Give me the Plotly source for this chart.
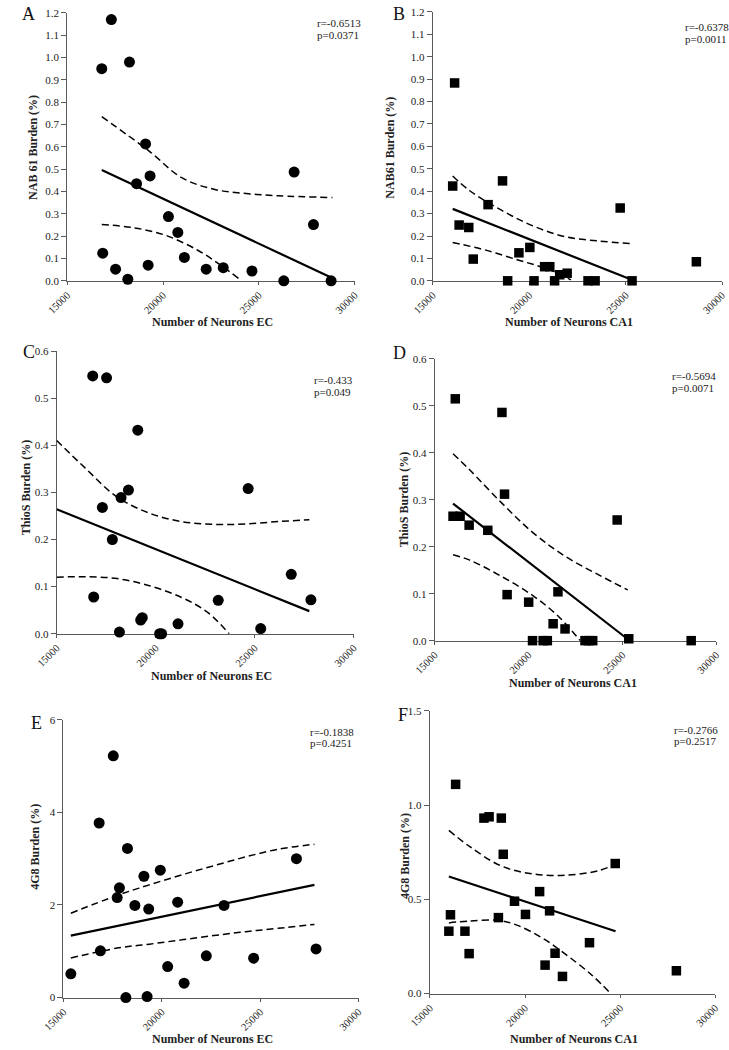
import plotly.graph_objects as go

W, H = 729, 1050
FONT = "Liberation Serif"

# ---------------- data ----------------
# Panel A: NAB61 vs EC neurons
a_x = [16800, 17300, 18245, 19086, 18615, 19320, 16850, 17520, 18160, 19220,
       20280, 20770, 21110, 22250, 23140, 24640, 26300, 26840, 27850, 28770]
a_y = [0.95, 1.17, 0.98, 0.613, 0.435, 0.47, 0.124, 0.052, 0.007, 0.07,
       0.288, 0.217, 0.105, 0.052, 0.059, 0.044, 0.0, 0.487, 0.252, 0.0]
a_fit_x = [16800, 28770]
a_fit_y = [0.496, 0.015]
a_up_x = [16800, 19288, 20970, 22651, 24333, 26014, 28839]
a_up_y = [0.735, 0.58, 0.462, 0.41, 0.391, 0.381, 0.373]
a_lo_x = [16800, 18447, 20129, 21810, 22987, 23946]
a_lo_y = [0.252, 0.238, 0.204, 0.137, 0.071, 0.010]

# Panel B: NAB61 vs CA1 neurons
b_x = [16133, 16033, 16367, 16867, 17100, 17867, 18617, 18883, 19467, 20033,
       20250, 20800, 21067, 21317, 21583, 21967, 23050, 23417, 24717, 25333, 28667]
b_y = [0.883, 0.423, 0.249, 0.238, 0.097, 0.34, 0.446, 0.0, 0.125, 0.149,
       0.0, 0.063, 0.063, 0.0, 0.027, 0.034, 0.0, 0.0, 0.325, 0.0, 0.085]
b_fit_x = [16033, 25250]
b_fit_y = [0.321, 0.007]
b_up_x = [16033, 16917, 18583, 20250, 21917, 23583, 25250]
b_up_y = [0.468, 0.402, 0.314, 0.243, 0.196, 0.178, 0.166]
b_lo_x = [16033, 17750, 19417, 20583, 21583, 22167]
b_lo_y = [0.171, 0.137, 0.093, 0.063, 0.031, 0.004]

# Panel C: ThioS vs EC neurons
c_x = [16820, 17519, 19096, 17308, 18250, 18624, 17812, 16869, 18169, 19242,
       19323, 20200, 20298, 21127, 23159, 24670, 25304, 26848, 27840]
c_y = [0.547, 0.543, 0.432, 0.268, 0.289, 0.305, 0.2, 0.078, 0.0035, 0.029,
       0.034, 0.0, 0.0, 0.021, 0.071, 0.308, 0.011, 0.126, 0.072]
c_fit_x = [15000, 27758]
c_fit_y = [0.264, 0.048]
c_up_x = [15000, 16430, 18055, 19680, 21306, 22931, 24556, 26182, 27758]
c_up_y = [0.41, 0.352, 0.29, 0.256, 0.238, 0.232, 0.233, 0.238, 0.242]
c_lo_x = [15000, 16430, 18055, 19680, 21306, 22606, 23711]
c_lo_y = [0.12, 0.121, 0.117, 0.102, 0.077, 0.046, 0.0]

# Panel D: ThioS vs CA1 neurons
d_x = [16097, 18583, 18720, 15977, 16354, 16834, 17829, 18857, 20006, 20211,
       20777, 21000, 21566, 21309, 21943, 23006, 23211, 23417, 24720, 25337, 28663]
d_y = [0.515, 0.486, 0.312, 0.265, 0.265, 0.246, 0.235, 0.098, 0.082, 0.0,
       0.0, 0.0, 0.104, 0.036, 0.025, 0.0, 0.0, 0.0, 0.257, 0.004, 0.0]
d_fit_x = [15977, 25286]
d_fit_y = [0.292, 0.003]
d_up_x = [15977, 16834, 18549, 20263, 21977, 23691, 25286]
d_up_y = [0.398, 0.365, 0.294, 0.229, 0.179, 0.141, 0.108]
d_lo_x = [15977, 16834, 18549, 20263, 21634, 22749]
d_lo_y = [0.183, 0.172, 0.137, 0.095, 0.05, 0.0]

# Panel E: 4G8 vs EC neurons
e_x = [15376, 16816, 16881, 17535, 17732, 17846, 18255, 18174, 18632, 19090,
       19335, 19253, 19924, 20300, 20807, 21134, 22263, 23163, 24668, 26844, 27842]
e_y = [0.512, 3.77, 1.01, 5.22, 2.16, 2.37, 3.22, 0.0, 1.99, 2.62,
       1.91, 0.02, 2.75, 0.67, 2.06, 0.31, 0.90, 1.99, 0.85, 3.0, 1.05]
e_fit_x = [15376, 27760]
e_fit_y = [1.338, 2.434]
e_up_x = [15376, 17732, 19368, 21004, 22640, 24275, 25911, 27760]
e_up_y = [1.822, 2.206, 2.434, 2.648, 2.847, 3.039, 3.203, 3.31]
e_lo_x = [15376, 17732, 19368, 21004, 22640, 24275, 25911, 27760]
e_lo_y = [0.854, 1.068, 1.153, 1.246, 1.338, 1.423, 1.495, 1.58]

# Panel F: 4G8 vs CA1 neurons
f_x = [16353, 15998, 16082, 16843, 17063, 17841, 18112, 18754, 18856, 18602,
       19448, 20023, 20767, 21291, 21054, 21578, 21968, 23388, 24741, 27954]
f_y = [1.11, 0.331, 0.418, 0.331, 0.212, 0.931, 0.938, 0.931, 0.739, 0.403,
       0.49, 0.42, 0.541, 0.439, 0.151, 0.214, 0.091, 0.27, 0.69, 0.121]
f_fit_x = [15998, 24758]
f_fit_y = [0.621, 0.331]
f_up_x = [15998, 17063, 18754, 20446, 22137, 23828, 24758]
f_up_y = [0.866, 0.782, 0.677, 0.634, 0.628, 0.651, 0.686]
f_lo_x = [15998, 17063, 18585, 19600, 20953, 22137, 23490, 24504]
f_lo_y = [0.375, 0.385, 0.389, 0.362, 0.292, 0.208, 0.1, 0.0]

x_ticks = [15000, 20000, 25000, 30000]
x_ticklabels = ["15000", "20000", "25000", "30000"]

panels = [
    dict(letter="A", x=a_x, y=a_y, fx=a_fit_x, fy=a_fit_y, ux=a_up_x, uy=a_up_y, lx=a_lo_x, ly=a_lo_y,
         sym="circle", ytitle="NAB 61 Burden (%)", xtitle="Number of Neurons EC",
         r="r=-0.6513", p="p=0.0371", yr=[0, 1.2], yt=[i / 10 for i in range(13)], yfmt=".1f"),
    dict(letter="B", x=b_x, y=b_y, fx=b_fit_x, fy=b_fit_y, ux=b_up_x, uy=b_up_y, lx=b_lo_x, ly=b_lo_y,
         sym="square", ytitle="NAB61 Burden (%)", xtitle="Number of Neurons CA1",
         r="r=-0.6378", p="p=0.0011", yr=[0, 1.2], yt=[i / 10 for i in range(13)], yfmt=".1f"),
    dict(letter="C", x=c_x, y=c_y, fx=c_fit_x, fy=c_fit_y, ux=c_up_x, uy=c_up_y, lx=c_lo_x, ly=c_lo_y,
         sym="circle", ytitle="ThioS Burden (%)", xtitle="Number of Neurons EC",
         r="r=-0.433", p="p=0.049", yr=[0, 0.6], yt=[i / 10 for i in range(7)], yfmt=".1f"),
    dict(letter="D", x=d_x, y=d_y, fx=d_fit_x, fy=d_fit_y, ux=d_up_x, uy=d_up_y, lx=d_lo_x, ly=d_lo_y,
         sym="square", ytitle="ThioS Burden (%)", xtitle="Number of Neurons CA1",
         r="r=-0.5694", p="p=0.0071", yr=[0, 0.6], yt=[i / 10 for i in range(7)], yfmt=".1f"),
    dict(letter="E", x=e_x, y=e_y, fx=e_fit_x, fy=e_fit_y, ux=e_up_x, uy=e_up_y, lx=e_lo_x, ly=e_lo_y,
         sym="circle", ytitle="4G8 Burden (%)", xtitle="Number of Neurons EC",
         r="r=-0.1838", p="p=0.4251", yr=[0, 6], yt=[0, 2, 4, 6], yfmt="d"),
    dict(letter="F", x=f_x, y=f_y, fx=f_fit_x, fy=f_fit_y, ux=f_up_x, uy=f_up_y, lx=f_lo_x, ly=f_lo_y,
         sym="square", ytitle="4G8 Burden (%)", xtitle="Number of Neurons CA1",
         r="r=-0.2766", p="p=0.2517", yr=[0, 1.5], yt=[0, 0.5, 1.0, 1.5], yfmt=".1f"),
]

# ---------------- layout geometry (pixels) ----------------
# plot area: left, right, top, bottom
boxes = [(48, 346, 7, 278), (427, 727, 6, 278),
         (37, 345, 349, 635), (429, 721, 357, 642),
         (44, 350, 722, 1003), (424, 720, 713, 999)]
ytitle_pos = [(13, 143), (383, 143), (6, 487), (397, 499), (15, 850), (398, 860)]
xtitle_pos = [(199, 320), (568, 320), (198, 678), (572, 685), (199, 1045), (573, 1045)]
stat_pos = [(305, 17), (686, 21), (302, 378), (673, 374), (298, 734), (675, 732)]
letter_pos = [(8, 8), (392, 8), (8, 350), (392, 351), (16, 725), (396, 717)]


def px(x):
    return x / W


def py(y):
    return 1 - y / H


fig = go.Figure()
annotations = []
AXCOL = "#5a5a5a"

for i, p in enumerate(panels):
    n = i + 1
    xa = "x" if n == 1 else f"x{n}"
    ya = "y" if n == 1 else f"y{n}"
    L, R, T, B = boxes[i]
    msize = 11 if p["sym"] == "circle" else 9.5
    for bx, by in ((p["ux"], p["uy"]), (p["lx"], p["ly"])):
        fig.add_trace(go.Scatter(x=bx, y=by, mode="lines", xaxis=xa, yaxis=ya,
                                 line=dict(color="black", width=1.5, dash="7px,4px", shape="spline"),
                                 cliponaxis=False, showlegend=False))
    fig.add_trace(go.Scatter(x=p["fx"], y=p["fy"], mode="lines", xaxis=xa, yaxis=ya,
                             line=dict(color="black", width=2.2),
                             cliponaxis=False, showlegend=False))
    fig.add_trace(go.Scatter(x=p["x"], y=p["y"], mode="markers", xaxis=xa, yaxis=ya,
                             marker=dict(symbol=p["sym"], size=msize, color="black",
                                         line=dict(width=0)),
                             cliponaxis=False, showlegend=False))

    xkey = "xaxis" if n == 1 else f"xaxis{n}"
    ykey = "yaxis" if n == 1 else f"yaxis{n}"
    fig.layout[xkey] = dict(
        domain=[px(L), px(R)], range=[15000, 30000], anchor=ya,
        tickmode="array", tickvals=x_ticks, ticktext=x_ticklabels, tickangle=-45,
        ticks="outside", ticklen=3, tickcolor=AXCOL, showline=True, linecolor=AXCOL, linewidth=1.2,
        showgrid=False, zeroline=False, tickfont=dict(family=FONT, size=10.5, color="#222"),
        layer="below traces", fixedrange=True)
    fig.layout[ykey] = dict(
        domain=[py(B), py(T)], range=p["yr"], anchor=xa,
        tickmode="array", tickvals=p["yt"], tickformat=p["yfmt"],
        ticks="outside", ticklen=5, tickcolor=AXCOL, showline=True, linecolor=AXCOL, linewidth=1.2,
        showgrid=False, zeroline=False, tickfont=dict(family=FONT, size=11, color="#222"),
        layer="below traces", fixedrange=True)

    tx, ty = ytitle_pos[i]
    annotations.append(dict(x=px(tx), y=py(ty), xref="paper", yref="paper", text=f"<b>{p['ytitle']}</b>",
                            textangle=-90, showarrow=False, font=dict(family=FONT, size=12, color="#222"),
                            xanchor="center", yanchor="middle"))
    tx, ty = xtitle_pos[i]
    annotations.append(dict(x=px(tx), y=py(ty), xref="paper", yref="paper", text=f"<b>{p['xtitle']}</b>",
                            showarrow=False, font=dict(family=FONT, size=12, color="#222"),
                            xanchor="center", yanchor="middle"))
    sx, sy = stat_pos[i]
    annotations.append(dict(x=px(sx), y=py(sy), xref="paper", yref="paper", text=p["r"],
                            showarrow=False, font=dict(family=FONT, size=11, color="#222"),
                            xanchor="left", yanchor="middle"))
    annotations.append(dict(x=px(sx), y=py(sy + 12), xref="paper", yref="paper", text=p["p"],
                            showarrow=False, font=dict(family=FONT, size=11, color="#222"),
                            xanchor="left", yanchor="middle"))
    lx_, ly_ = letter_pos[i]
    annotations.append(dict(x=px(lx_), y=py(ly_), xref="paper", yref="paper", text=p["letter"],
                            showarrow=False, font=dict(family=FONT, size=18, color="#111"),
                            xanchor="center", yanchor="middle"))

fig.update_layout(width=W, height=H, margin=dict(l=0, r=0, t=0, b=0),
                  paper_bgcolor="white", plot_bgcolor="white", annotations=annotations,
                  showlegend=False)

fig.write_html("out.html", config={"displayModeBar": False})
